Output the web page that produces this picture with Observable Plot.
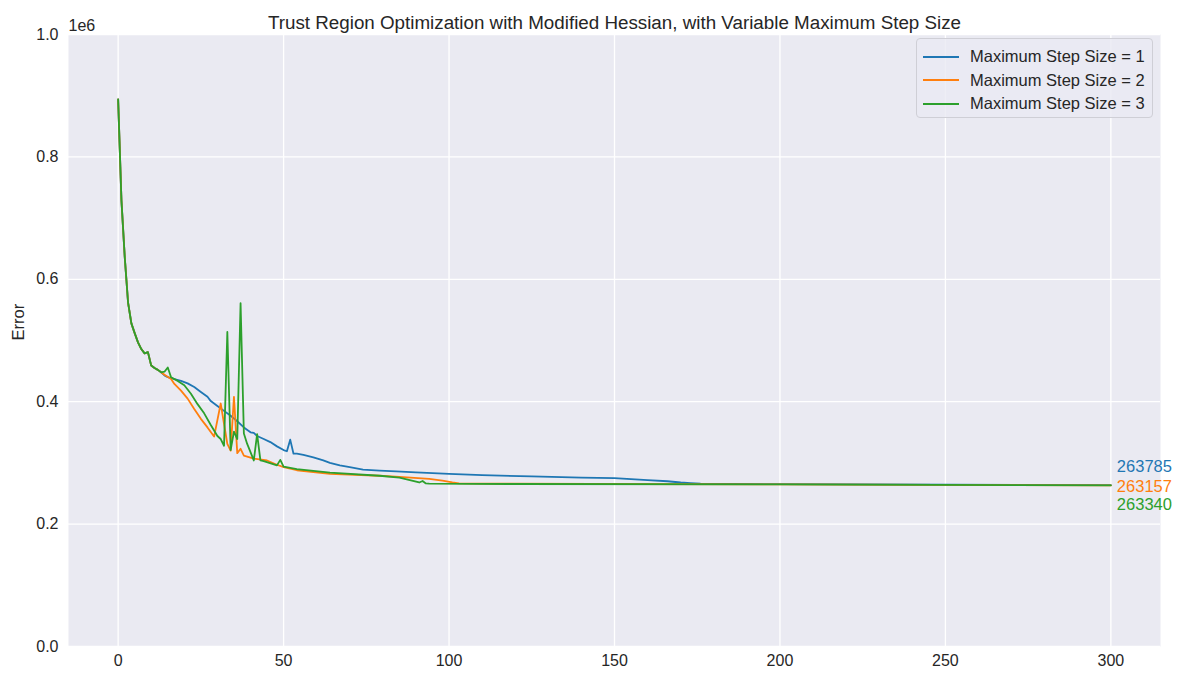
<!DOCTYPE html>
<html>
<head>
<meta charset="utf-8">
<script src="https://cdn.jsdelivr.net/npm/d3@7"></script>
<script src="https://cdn.jsdelivr.net/npm/@observablehq/plot@0.6"></script>
<style>
  body { margin: 0; background: #fff; font-family: "Liberation Sans", Arial, sans-serif; }
  #wrap { position: relative; width: 1178px; height: 675px; }
  #legend { position: absolute; left: 916px; top: 38px; width: 237px; height: 80px;
    background: rgba(234,234,242,0.8); border: 1px solid #cfcfd6; border-radius: 4px;
    box-sizing: border-box; padding: 6px 0 0 6px; font-size: 16.5px; color: #262626; }
  .row { display: flex; align-items: center; height: 23.5px; }
  .sw { width: 36px; height: 2px; margin-right: 11px; }
</style>
</head>
<body>
<div id="wrap"></div>
<script>
const seriesNames = ["Maximum Step Size = 1", "Maximum Step Size = 2", "Maximum Step Size = 3"];
const colors = ["#1f77b4", "#ff7f0e", "#2ca02c"];
const finalLabels = ["263785", "263157", "263340"];
const xTicks = [0, 50, 100, 150, 200, 250, 300];
const yTicks = [0, 200000, 400000, 600000, 800000, 1000000];

// shared first iterations (all three runs identical)
const sharedSteps = [0, 1, 2, 3, 4, 5, 6, 7, 8, 9, 10, 11, 12, 13];
const sharedErr = [894000, 729000, 636000, 562000, 528000, 512000, 497000, 486000, 479000, 481000, 459000, 455000, 452000, 448000];

const steps1 = [14, 15, 17, 19, 21, 23, 25, 27, 28, 30, 32, 34, 36, 38, 40, 41, 42, 44, 46, 48, 50, 51, 52, 53, 54, 56, 59, 62, 64, 67, 70, 74, 79, 84, 90, 100, 110, 125, 140, 150, 160, 166, 170, 173, 176, 200, 250, 300];
const err1 = [443000, 440000, 437000, 434000, 430000, 424000, 416000, 408000, 401000, 393000, 385000, 377000, 368000, 358000, 350000, 349000, 344000, 339000, 334000, 327000, 321000, 319000, 338000, 315000, 315000, 313000, 309000, 304000, 300000, 296000, 293000, 289000, 287500, 286000, 284500, 282000, 280000, 278000, 276000, 275000, 272000, 270000, 268000, 267000, 266000, 265200, 264500, 263785];

const steps2 = [14, 16, 17, 19, 21, 23, 25, 27, 29, 31, 32, 33, 34, 35, 36, 37, 38, 41, 45, 48, 50, 54, 64, 79, 85, 94, 98, 101, 103, 110, 200, 300];
const err2 = [444000, 437000, 429000, 418000, 405000, 388000, 372000, 358000, 343000, 397000, 364000, 331000, 320000, 408000, 316000, 323000, 312000, 307000, 304000, 297000, 293000, 288000, 282000, 279000, 277000, 274000, 271000, 268000, 266500, 266000, 265000, 263157];

const steps3 = [14, 15, 16, 18, 20, 22, 24, 26, 28, 30, 31, 32, 33, 34, 35, 36, 37, 38, 39, 41, 42, 43, 44, 48, 49, 50, 54, 64, 79, 85, 91, 92, 93, 94, 120, 200, 300];
const err3 = [449000, 456000, 440000, 434000, 427000, 413000, 396000, 381000, 362000, 344000, 339000, 328000, 514000, 321000, 351000, 339000, 561000, 348000, 331000, 304000, 347000, 304000, 303000, 296000, 305000, 294000, 290000, 284000, 279000, 276000, 268000, 270500, 266500, 266000, 265500, 265000, 263340];

const runs = [[steps1, err1], [steps2, err2], [steps3, err3]];
const rows = [];
runs.forEach(([s, e], k) => {
  sharedSteps.forEach((st, i) => rows.push({step: st, err: sharedErr[i], run: seriesNames[k]}));
  s.forEach((st, i) => rows.push({step: st, err: e[i], run: seriesNames[k]}));
});
const lastRows = runs.map(([s, e], k) => ({step: s[s.length - 1], err: e[e.length - 1], run: seriesNames[k], label: finalLabels[k]}));
const labelOffsets = [-18, 1, 19];

const font = "'Liberation Sans', Arial, sans-serif";
const plot = Plot.plot({
  width: 1178,
  height: 675,
  marginLeft: 68,
  marginRight: 18,
  marginTop: 34,
  marginBottom: 29,
  style: {fontFamily: font, color: "#262626", background: "#fff"},
  x: {domain: [-15, 315]},
  y: {domain: [0, 1000000]},
  color: {domain: seriesNames, range: colors},
  marks: [
    Plot.frame({fill: "#eaeaf2", stroke: "none"}),
    Plot.gridX(xTicks, {stroke: "#fff", strokeOpacity: 1, strokeWidth: 1.3}),
    Plot.gridY(yTicks, {stroke: "#fff", strokeOpacity: 1, strokeWidth: 1.3}),
    Plot.axisX(xTicks, {tickSize: 0, tickPadding: 8, fontSize: 16, label: null, fill: "#262626"}),
    Plot.axisY(yTicks, {tickSize: 0, tickPadding: 10, fontSize: 16, label: null, fill: "#262626", tickFormat: d => (d / 1e6).toFixed(1)}),
    Plot.line(rows, {x: "step", y: "err", z: "run", stroke: "run", strokeWidth: 1.8, strokeLinejoin: "round"}),
    ...lastRows.map((r, k) => Plot.text([r], {x: "step", y: "err", text: "label", fill: colors[k], textAnchor: "start", dx: 6, dy: labelOffsets[k], fontSize: 16.5})),
    Plot.text(["Trust Region Optimization with Modified Hessian, with Variable Maximum Step Size"], {frameAnchor: "top", dy: -19, fontSize: 18.8, fill: "#262626"}),
    Plot.text(["1e6"], {frameAnchor: "top-left", textAnchor: "start", dy: -15, fontSize: 16, fill: "#262626"}),
    Plot.text(["Error"], {frameAnchor: "left", rotate: -90, dx: -50, fontSize: 16.5, fill: "#262626"})
  ]
});
const wrap = document.getElementById("wrap");
wrap.appendChild(plot);

const legend = document.createElement("div");
legend.id = "legend";
seriesNames.forEach((n, k) => {
  const r = document.createElement("div");
  r.className = "row";
  r.innerHTML = `<span class="sw" style="background:${colors[k]}"></span><span>${n}</span>`;
  legend.appendChild(r);
});
wrap.appendChild(legend);
</script>
</body>
</html>
